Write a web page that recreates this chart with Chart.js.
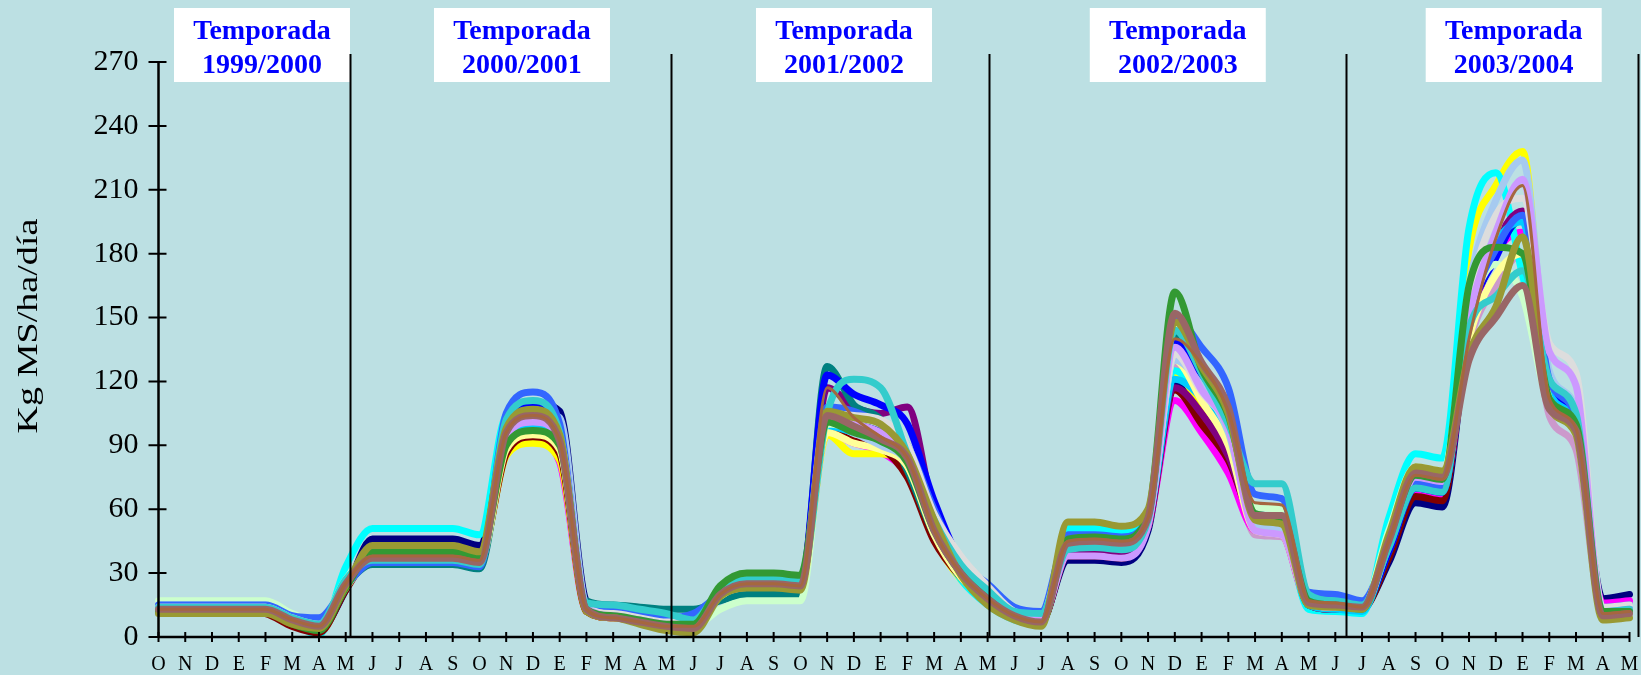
<!DOCTYPE html>
<html>
<head>
<meta charset="utf-8">
<script src="https://cdn.jsdelivr.net/npm/chart.js@4.4.0/dist/chart.umd.min.js"></script>
<style>
  html, body { margin: 0; padding: 0; background: #BCE0E3; }
</style>
</head>
<body>
<canvas id="grafico" width="1641" height="675"></canvas>
<script>
// Meses (oct 1999 - may 2004)
const meses = [
    'O','N','D','E','F','M','A','M',
    'J','J','A','S','O','N','D','E','F','M','A','M',
    'J','J','A','S','O','N','D','E','F','M','A','M',
    'J','J','A','S','O','N','D','E','F','M','A','M','J',
    'J','A','S','O','N','D','E','F','M','A','M'
];
const temporadas = ['1999/2000', '2000/2001', '2001/2002', '2002/2003', '2003/2004'];
const ticksY = [0, 30, 60, 90, 120, 150, 180, 210, 240, 270];

// Tasas de crecimiento (kg MS/ha/día), una por mes
const siena = [
    13,13,13,13,13,8,5,25,
    38,38,38,38,36,96,104,92,13,9,7,5,
    5,20,25,25,24,117,103,94,84,50,30,18,
    10,7,45,46,45,56,140,128,106,63,62,17,16,
    14,45,76,74,140,187,212,112,98,11,12
];
const malva = [
    13,13,13,13,13,8,5,25,
    37,37,37,37,35,96,104,92,13,9,7,5,
    4,20,25,25,24,104,99,93,84,50,30,18,
    10,7,44,45,44,56,152,129,108,57,57,16,15,
    14,45,77,75,130,150,165,107,97,10,11
];
const oliva = [
    11,11,11,11,11,6,4,24,
    43,43,43,43,40,98,107,95,12,9,6,3,
    2,19,23,23,22,106,103,100,86,55,29,15,
    8,5,54,54,52,60,148,127,105,55,53,15,14,
    13,48,80,78,133,155,188,108,95,8,9
];
const verde = [
    12,12,12,12,12,6,3,23,
    40,40,40,40,37,90,97,90,13,10,8,6,
    6,24,30,30,29,101,96,92,82,50,30,18,
    9,6,46,47,46,57,162,126,104,58,56,17,15,
    13,46,76,74,165,183,180,112,100,12,12
];
const turquesa = [
    14,14,14,14,14,9,6,27,
    36,36,36,36,34,102,111,96,16,15,13,11,
    8,22,27,27,26,105,121,117,86,55,34,22,
    12,11,41,42,41,55,144,124,100,72,72,20,17,
    15,42,70,68,145,160,172,121,105,12,13
];
const lavanda = [
    14,14,14,14,14,8,5,25,
    38,38,38,38,36,94,101,93,14,10,8,6,
    6,20,25,25,24,103,100,96,85,52,31,19,
    10,8,38,38,37,52,136,116,98,50,48,16,14,
    14,43,75,73,150,190,215,134,118,12,13
];
const gris = [
    14,14,14,14,14,9,6,25,
    39,39,39,39,37,96,104,94,14,11,9,7,
    7,21,26,26,25,105,104,102,90,58,38,24,
    12,10,45,46,45,55,133,115,99,58,56,17,15,
    14,46,78,76,160,198,206,138,124,14,15
];
const azulMedio = [
    15,15,15,15,15,10,9,24,
    35,35,35,35,33,105,115,100,15,13,11,9,
    11,20,25,25,24,108,106,100,90,60,35,25,
    14,12,48,48,47,56,150,136,117,67,65,21,20,
    17,42,72,70,150,182,198,121,103,14,15
];
const celestePalido = [
    15,15,15,15,15,9,6,26,
    40,40,40,40,38,96,106,103,15,11,9,7,
    7,20,25,25,24,104,96,90,82,50,30,19,
    11,9,42,43,42,54,130,118,96,52,50,18,16,
    15,44,74,72,165,205,224,125,107,13,14
];
const amarilloClaro = [
    13,13,13,13,13,7,4,23,
    37,37,37,37,35,88,95,88,13,9,7,5,
    5,19,24,24,23,96,91,88,80,48,28,17,
    9,7,44,44,43,55,130,111,90,50,48,16,14,
    14,44,74,72,140,170,180,112,97,11,12
];
const verdeClaro = [
    17,17,17,17,17,11,7,27,
    39,39,39,39,37,95,103,92,14,10,8,6,
    5,13,17,17,17,100,98,94,84,50,30,18,
    10,8,47,47,46,56,147,126,104,61,60,18,16,
    14,50,80,78,150,175,160,110,100,12,13
];
const celeste = [
    14,14,14,14,14,8,4,26,
    38,38,38,38,36,92,100,90,14,10,8,6,
    6,20,25,25,24,99,96,92,82,50,29,17,
    9,7,44,44,43,54,121,112,92,54,52,15,13,
    12,44,73,71,150,185,195,115,100,11,12
];
const azul = [
    14,14,14,14,14,9,5,25,
    39,39,39,39,37,100,110,96,15,11,9,7,
    7,20,25,25,24,123,114,109,100,64,35,22,
    11,9,46,46,45,55,138,122,100,58,56,17,15,
    14,40,70,68,148,178,198,120,102,12,13
];
const verdeAzulado = [
    13,13,13,13,13,8,5,24,
    34,34,34,34,32,93,102,93,17,15,14,13,
    13,17,20,20,20,127,109,102,78,48,30,18,
    10,8,43,43,42,55,141,120,100,56,54,16,14,
    13,40,70,68,148,180,196,117,100,12,13
];
const purpura = [
    13,13,13,13,13,8,5,25,
    38,38,38,38,36,92,100,90,14,10,8,6,
    6,20,25,25,24,117,108,105,108,58,32,19,
    10,8,40,40,39,53,117,105,85,54,52,15,13,
    14,42,74,72,150,185,200,122,104,12,13
];
const granate = [
    12,12,12,12,11,5,2,22,
    38,38,38,38,36,86,94,86,12,9,7,5,
    5,20,25,25,24,97,92,89,75,45,28,17,
    9,7,38,38,37,52,116,100,83,55,54,15,13,
    13,37,66,64,150,185,197,118,100,11,12
];
const cian = [
    14,14,14,14,14,7,1,33,
    51,51,51,51,48,104,108,92,14,10,8,6,
    6,20,25,25,24,102,98,92,82,49,27,15,
    8,6,51,51,49,57,125,112,95,56,54,13,12,
    11,56,86,84,192,218,170,118,100,11,12
];
const amarillo = [
    12,12,12,12,12,6,2,23,
    37,37,37,37,35,85,91,83,12,9,7,5,
    5,20,25,25,24,95,86,86,78,46,27,16,
    9,7,42,42,41,54,124,108,90,52,50,15,13,
    13,42,73,71,182,212,228,115,98,11,12
];
const magenta = [
    12,12,12,12,12,6,3,23,
    37,37,37,37,35,87,93,82,12,9,7,5,
    5,20,25,25,24,96,91,87,76,46,28,17,
    9,7,40,40,39,52,111,96,77,50,48,15,13,
    14,40,68,66,145,180,190,118,100,16,17
];
const marino = [
    13,13,13,13,13,7,3,22,
    46,46,46,46,43,100,110,106,17,12,9,7,
    7,20,25,25,24,105,100,96,85,52,30,18,
    10,8,36,36,35,50,120,107,90,55,53,16,14,
    14,35,63,61,145,180,198,122,103,18,20
];
const rosaLila = [
    13,13,13,13,13,8,5,24,
    37,37,37,37,35,93,100,90,13,10,8,6,
    6,20,25,25,24,100,97,93,82,50,30,18,
    10,8,38,38,37,51,128,110,92,48,47,15,14,
    14,42,70,68,138,165,180,104,88,12,13
];

// la primera serie queda dibujada encima
const series = [
    { nombre: 'siena', datos: siena, color: '#A5673F', ancho: 3 },
    { nombre: 'malva', datos: malva, color: '#996666', ancho: 7 },
    { nombre: 'oliva', datos: oliva, color: '#999933', ancho: 7 },
    { nombre: 'verde', datos: verde, color: '#339933', ancho: 7 },
    { nombre: 'turquesa', datos: turquesa, color: '#33CCCC', ancho: 7 },
    { nombre: 'lavanda', datos: lavanda, color: '#CC99FF', ancho: 7 },
    { nombre: 'gris', datos: gris, color: '#DDDDDD', ancho: 7 },
    { nombre: 'azulMedio', datos: azulMedio, color: '#3366FF', ancho: 7 },
    { nombre: 'celestePalido', datos: celestePalido, color: '#A6CAF0', ancho: 7 },
    { nombre: 'amarilloClaro', datos: amarilloClaro, color: '#FFFF99', ancho: 7 },
    { nombre: 'verdeClaro', datos: verdeClaro, color: '#CCFFCC', ancho: 7 },
    { nombre: 'celeste', datos: celeste, color: '#00CCFF', ancho: 7 },
    { nombre: 'azul', datos: azul, color: '#0000FF', ancho: 7 },
    { nombre: 'verdeAzulado', datos: verdeAzulado, color: '#008080', ancho: 7 },
    { nombre: 'purpura', datos: purpura, color: '#800080', ancho: 7 },
    { nombre: 'granate', datos: granate, color: '#800000', ancho: 7 },
    { nombre: 'cian', datos: cian, color: '#00FFFF', ancho: 7 },
    { nombre: 'amarillo', datos: amarillo, color: '#FFFF00', ancho: 7 },
    { nombre: 'magenta', datos: magenta, color: '#FF00FF', ancho: 7 },
    { nombre: 'marino', datos: marino, color: '#000080', ancho: 7 },
    { nombre: 'rosaLila', datos: rosaLila, color: '#CC99CC', ancho: 7 }
];

// posiciones (en meses) de las separaciones y de los recuadros
const separaciones = [7.15, 19.16, 31.05, 44.39, 55.33];
const centrosRecuadro = [3.87, 13.59, 25.63, 38.11, 50.67];

const fondo = '#BCE0E3';
const fuente = '"Liberation Serif", "Times New Roman", serif';

const decoracion = {
    id: 'decoracion',
    beforeDraw(chart) {
        const ctx = chart.ctx;
        ctx.save();
        ctx.fillStyle = fondo;
        ctx.fillRect(0, 0, chart.width, chart.height);
        ctx.restore();
    },
    afterDraw(chart) {
        const ctx = chart.ctx;
        const sx = chart.scales.x;
        const sy = chart.scales.y;
        const x0 = sx.getPixelForValue(0);
        const x1 = sx.getPixelForValue(meses.length - 1);
        const yCero = sy.getPixelForValue(0);
        const yTope = sy.getPixelForValue(270);

        ctx.save();
        ctx.strokeStyle = '#000';
        ctx.lineWidth = 2.5;
        ctx.beginPath();
        ctx.moveTo(x0, yTope);
        ctx.lineTo(x0, yCero);
        ctx.moveTo(x0, yCero);
        ctx.lineTo(x1, yCero);
        ctx.stroke();

        // marcas que cruzan los ejes
        ctx.lineWidth = 2;
        ctx.beginPath();
        ticksY.forEach(v => {
            const py = sy.getPixelForValue(v);
            ctx.moveTo(x0 - 10, py);
            ctx.lineTo(x0 + 8, py);
        });
        meses.forEach((m, i) => {
            const px = sx.getPixelForValue(i);
            ctx.moveTo(px, yCero - 5);
            ctx.lineTo(px, yCero + 5);
        });
        ctx.stroke();

        // recuadros de temporada
        ctx.textAlign = 'center';
        ctx.textBaseline = 'alphabetic';
        temporadas.forEach((t, i) => {
            const cx = sx.getPixelForValue(centrosRecuadro[i]);
            ctx.fillStyle = '#FFFFFF';
            ctx.fillRect(cx - 88, 8, 176, 74);
            ctx.fillStyle = '#0000FF';
            ctx.font = 'bold 28px ' + fuente;
            ctx.fillText('Temporada', cx, 39);
            ctx.fillText(t, cx, 73);
        });

        // líneas de separación
        ctx.strokeStyle = '#000';
        ctx.lineWidth = 2;
        ctx.beginPath();
        separaciones.forEach(s => {
            const px = Math.round(sx.getPixelForValue(s)) + 0.5;
            ctx.moveTo(px, yTope - 8);
            ctx.lineTo(px, yCero);
        });
        ctx.stroke();

        // título del eje Y (estirado como en el original)
        ctx.translate(29, 326);
        ctx.rotate(-Math.PI / 2);
        ctx.scale(1.27, 1);
        ctx.fillStyle = '#000';
        ctx.font = '30px ' + fuente;
        ctx.textAlign = 'center';
        ctx.textBaseline = 'middle';
        ctx.fillText('Kg MS/ha/día', 0, 0);
        ctx.restore();
    }
};

new Chart(document.getElementById('grafico'), {
    type: 'line',
    data: {
        labels: meses,
        datasets: series.map(s => ({
            label: s.nombre,
            data: s.datos,
            borderColor: s.color,
            backgroundColor: s.color,
            borderWidth: s.ancho,
            pointRadius: 0,
            fill: false,
            cubicInterpolationMode: 'monotone',
            borderJoinStyle: 'round',
            borderCapStyle: 'round'
        }))
    },
    options: {
        responsive: false,
        devicePixelRatio: 1,
        animation: false,
        layout: {
            padding: { left: 0, right: 11.5, top: 62, bottom: 0 }
        },
        plugins: {
            legend: { display: false },
            tooltip: { enabled: false }
        },
        scales: {
            x: {
                type: 'category',
                offset: false,
                grid: { display: false, drawTicks: false },
                border: { display: false },
                ticks: {
                    autoSkip: false,
                    maxRotation: 0,
                    minRotation: 0,
                    padding: 16,
                    color: '#000',
                    font: { family: fuente, size: 20 }
                },
                afterFit: scale => {
                    scale.height = 38;
                    scale.paddingLeft = 0;
                    scale.paddingRight = 0;
                }
            },
            y: {
                min: 0,
                max: 270,
                grid: { display: false, drawTicks: false },
                border: { display: false },
                ticks: {
                    stepSize: 30,
                    padding: 20,
                    color: '#000',
                    font: { family: fuente, size: 30 }
                },
                afterFit: scale => { scale.width = 158.5; }
            }
        }
    },
    plugins: [decoracion]
});
</script>
</body>
</html>
